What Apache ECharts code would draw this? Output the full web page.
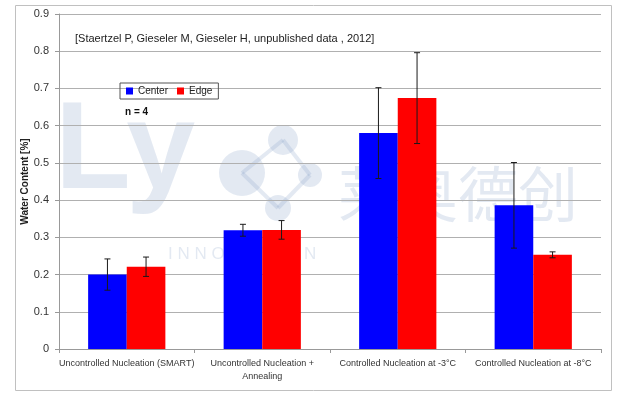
<!DOCTYPE html>
<html>
<head>
<meta charset="utf-8">
<script src="https://cdn.jsdelivr.net/npm/echarts@6/dist/echarts.min.js"></script>
<style>
  html, body { margin: 0; padding: 0; background: #fff; }
  #chart { width: 617px; height: 397px; }
</style>
</head>
<body>
<div id="chart"></div>
<script>
// data
const categories = [
  'Uncontrolled Nucleation (SMART)',
  'Uncontrolled Nucleation +\nAnnealing',
  'Controlled Nucleation at -3°C',
  'Controlled Nucleation at -8°C'
];
const centerValues = [0.200, 0.319, 0.580, 0.386];
const centerErrors = [0.042, 0.016, 0.122, 0.115];
const edgeValues = [0.221, 0.320, 0.674, 0.253];
const edgeErrors = [0.026, 0.025, 0.122, 0.008];
const yTicks = [0, 0.1, 0.2, 0.3, 0.4, 0.5, 0.6, 0.7, 0.8, 0.9];

const catGap = 0.43; // share of category left empty

var myChart = echarts.init(document.getElementById('chart'));

// error bar drawer, side = -1 (center) / +1 (edge)
function errorBars(values, errors, side) {
  return categories.map(function (c, i) {
    return [i, values[i], values[i] - errors[i], values[i] + errors[i], side];
  });
}
function renderErr(params, api) {
  var i = api.value(0);
  var lo = api.coord([i, api.value(2)]);
  var hi = api.coord([i, api.value(3)]);
  var band = api.size([1, 0])[0];
  var barW = band * (1 - catGap) / 2;
  var x = lo[0] + api.value(4) * barW / 2;
  var cap = 3;
  var st = { stroke: '#1a1a1a', lineWidth: 1 };
  return {
    type: 'group',
    children: [
      { type: 'line', shape: { x1: x, y1: lo[1], x2: x, y2: hi[1] }, style: st },
      { type: 'line', shape: { x1: x - cap, y1: lo[1], x2: x + cap, y2: lo[1] }, style: st },
      { type: 'line', shape: { x1: x - cap, y1: hi[1], x2: x + cap, y2: hi[1] }, style: st }
    ]
  };
}

var wm = 'rgba(140,165,200,0.24)';
var option = {
  animation: false,
  textStyle: { fontFamily: 'Liberation Sans, Arial, sans-serif' },
  grid: { left: 59, right: 16, top: 14, bottom: 48 },
  legend: {
    left: 120, top: 83,
    data: ['Center', 'Edge'],
    orient: 'horizontal',
    itemWidth: 7, itemHeight: 7, itemGap: 9,
    icon: 'rect',
    borderColor: '#555', borderWidth: 1,
    padding: [3, 6, 3, 6],
    textStyle: { fontSize: 10, color: '#222', fontFamily: 'Liberation Sans Narrow, Liberation Sans, Arial' }
  },
  xAxis: {
    type: 'category',
    data: categories,
    axisLine: { lineStyle: { color: '#999' } },
    axisTick: { show: true, alignWithLabel: false, length: 4, lineStyle: { color: '#999' } },
    axisLabel: { fontSize: 9, color: '#333', margin: 8, lineHeight: 13, interval: 0 }
  },
  yAxis: {
    type: 'value',
    min: 0, max: 0.9, interval: 0.1,
    name: 'Water Content [%]',
    nameLocation: 'middle',
    nameGap: 29,
    nameMoveOverlap: false,
    nameTextStyle: { fontSize: 10, fontWeight: 'bold', color: '#222' },
    axisLine: { show: true, lineStyle: { color: '#999' } },
    axisTick: { show: true, length: 4, lineStyle: { color: '#999' } },
    splitLine: { lineStyle: { color: '#b0b0b0' } },
    axisLabel: {
      fontSize: 11, color: '#333', margin: 10,
      formatter: function (v) {
        var t = yTicks.find(function (k) { return Math.abs(k - v) < 1e-9; });
        return t === 0 ? '0' : String(+t.toFixed(1));
      }
    }
  },
  series: [
    { name: 'Center', type: 'bar', data: centerValues, barGap: '0%', barCategoryGap: (catGap * 100) + '%',
      itemStyle: { color: '#0000ff' } },
    { name: 'Edge', type: 'bar', data: edgeValues,
      itemStyle: { color: '#ff0000' } },
    { type: 'custom', renderItem: renderErr, data: errorBars(centerValues, centerErrors, -1), z: 5,
      encode: { x: 0, y: [2, 3] }, silent: true },
    { type: 'custom', renderItem: renderErr, data: errorBars(edgeValues, edgeErrors, 1), z: 5,
      encode: { x: 0, y: [2, 3] }, silent: true }
  ],
  graphic: [
    { type: 'rect', left: 13, top: 3, shape: { width: 596, height: 385 },
      style: { fill: 'none', stroke: '#c0c0c0', lineWidth: 1 }, z: 0 },
    { type: 'text', left: 75, top: 33,
      style: { text: '[Staertzel P, Gieseler M, Gieseler H, unpublished data , 2012]',
        font: '11px Liberation Sans, Arial', fill: '#222' } },
    { type: 'text', left: 125, top: 107,
      style: { text: 'n = 4', font: 'bold 10px Liberation Sans, Arial', fill: '#111' } },
    // watermark
    { type: 'group', z: 100, silent: true, children: [
      { type: 'text', left: 55, top: 92,
        style: { text: 'Ly', font: '600 124px Liberation Sans, Arial', fill: wm } },
      { type: 'line', shape: { x1: 242, y1: 173, x2: 283, y2: 140 }, style: { stroke: wm, lineWidth: 4 } },
      { type: 'line', shape: { x1: 283, y1: 140, x2: 310, y2: 175 }, style: { stroke: wm, lineWidth: 4 } },
      { type: 'line', shape: { x1: 310, y1: 175, x2: 278, y2: 208 }, style: { stroke: wm, lineWidth: 4 } },
      { type: 'line', shape: { x1: 242, y1: 173, x2: 278, y2: 208 }, style: { stroke: wm, lineWidth: 4 } },
      { type: 'circle', shape: { cx: 242, cy: 173, r: 23 }, style: { fill: wm } },
      { type: 'circle', shape: { cx: 283, cy: 140, r: 15 }, style: { fill: wm } },
      { type: 'circle', shape: { cx: 310, cy: 175, r: 12 }, style: { fill: wm } },
      { type: 'circle', shape: { cx: 278, cy: 208, r: 13 }, style: { fill: wm } },
      { type: 'text', left: 168, top: 246,
        style: { text: 'I N N O V A T I O N', font: '17px Liberation Sans, Arial', fill: wm } },
      { type: 'text', left: 338, top: 164,
        style: { text: '莱奥德创', font: '60px Noto Sans CJK SC', fill: wm } }
    ] }
  ]
};
option && myChart.setOption(option);
</script>
</body>
</html>
